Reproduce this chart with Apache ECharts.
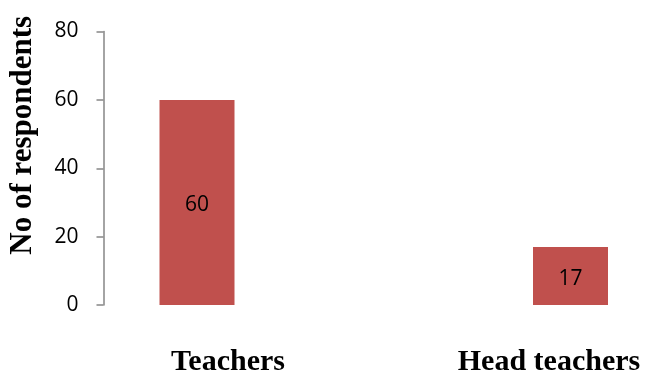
<!DOCTYPE html>
<html>
<head>
<meta charset="utf-8">
<script src="https://cdn.jsdelivr.net/npm/echarts@6/dist/echarts.min.js"></script>
<style>
  html, body { margin: 0; padding: 0; background: #fff; }
  #chart { width: 649px; height: 371px; }
</style>
</head>
<body>
<div id="chart"></div>
<script>
// values
const categories = ["Teachers", "Head teachers"];
const respondents = [60, 17];
const yTicks = { min: 0, max: 80, interval: 20 };

// labels in the reference sit off-centre from their bars
const labelPadding = [[0, 0, 0, 62], [0, 43, 0, 0]];

const chart = echarts.init(document.getElementById("chart"), null, { renderer: "canvas" });

const option = {
  animation: false,
  grid: { left: 197, right: 78.5, top: 31.5, bottom: 66, outerBoundsMode: "none" },
  xAxis: {
    type: "category",
    boundaryGap: false,
    data: categories.map((c, i) => ({
      value: c,
      textStyle: { padding: labelPadding[i] }
    })),
    axisLine: { show: false },
    axisTick: { show: false },
    splitLine: { show: false },
    axisLabel: {
      interval: 0,
      margin: 42,
      fontFamily: "Liberation Serif",
      fontWeight: "bold",
      fontSize: 30,
      color: "#000"
    }
  },
  yAxis: {
    type: "value",
    min: yTicks.min,
    max: yTicks.max,
    interval: yTicks.interval,
    offset: 93.5,
    name: "No of respondents",
    nameLocation: "middle",
    nameGap: 65,
    nameTextStyle: {
      fontFamily: "Liberation Serif",
      fontWeight: "bold",
      fontSize: 31,
      color: "#000",
      padding: [0, 0, 0, 66]
    },
    axisLine: { show: true, lineStyle: { color: "#868686", width: 1.5 } },
    axisTick: { show: true, length: 7, lineStyle: { color: "#868686", width: 1.5 } },
    splitLine: { show: false },
    axisLabel: {
      margin: 25,
      fontFamily: "Open Sans",
      fontSize: 21,
      color: "#000"
    }
  },
  series: [
    {
      type: "bar",
      data: respondents,
      barWidth: 75,
      clip: false,
      itemStyle: { color: "#C0504D" },
      label: {
        show: true,
        position: "inside",
        offset: [0, 3],
        fontFamily: "Open Sans",
        fontSize: 21,
        color: "#000"
      }
    }
  ]
};

chart.setOption(option);
</script>
</body>
</html>
